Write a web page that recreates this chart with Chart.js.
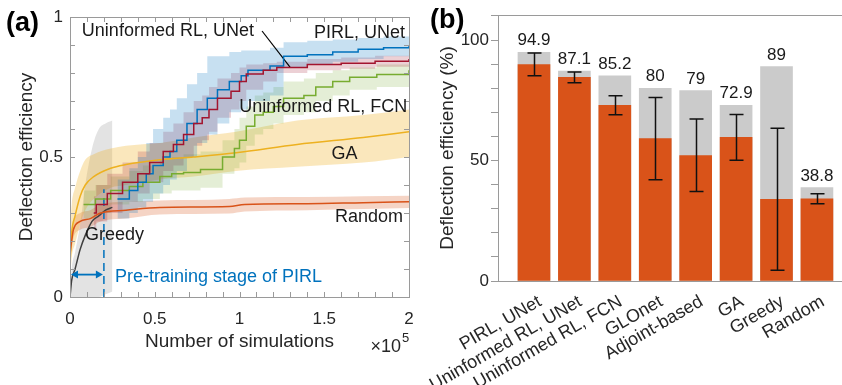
<!DOCTYPE html>
<html><head><meta charset="utf-8">
<script src="https://cdn.jsdelivr.net/npm/chart.js@4.4.1/dist/chart.umd.min.js"></script>
<style>
html,body{margin:0;padding:0;background:#fff;overflow:hidden;width:842px;height:385px}
#ca{position:absolute;left:0;top:0;width:420px;height:385px}
#cb{position:absolute;left:420px;top:0;width:422px;height:385px}
</style></head><body>
<canvas id="ca" width="420" height="385"></canvas>
<canvas id="cb" width="422" height="385"></canvas>
<script>
// ---------------- Panel (a) data (x in units of 1e5 simulations) ----------------
const pirlX  = [0.28,0.35,0.40,0.45,0.49,0.55,0.59,0.63,0.69,0.75,0.81,0.87,0.94,1.01,1.05,1.18,1.26,1.40,1.55,1.70,1.85,2.00];
const pirlY  = [0.35,0.38,0.41,0.44,0.47,0.50,0.52,0.56,0.62,0.67,0.71,0.74,0.77,0.79,0.81,0.825,0.86,0.865,0.875,0.885,0.89,0.897];
const pirlHi = [0.42,0.46,0.50,0.55,0.60,0.64,0.67,0.71,0.76,0.80,0.86,0.86,0.875,0.88,0.88,0.89,0.91,0.915,0.92,0.925,0.93,0.93];
const pirlLo = [0.28,0.30,0.32,0.34,0.37,0.40,0.42,0.45,0.50,0.55,0.58,0.62,0.66,0.67,0.70,0.72,0.82,0.83,0.84,0.85,0.86,0.865];

const unetX  = [0.14,0.155,0.22,0.31,0.40,0.47,0.55,0.61,0.67,0.73,0.78,0.82,0.87,0.95,1.00,1.04,1.14,1.22,1.40,1.60,1.80,2.00];
const unetY  = [0.30,0.33,0.37,0.41,0.44,0.48,0.52,0.545,0.58,0.62,0.64,0.67,0.71,0.735,0.77,0.796,0.81,0.82,0.83,0.835,0.842,0.85];
const unetHi = [0.36,0.40,0.44,0.48,0.52,0.55,0.59,0.62,0.66,0.70,0.72,0.75,0.78,0.80,0.82,0.83,0.835,0.84,0.85,0.855,0.862,0.87];
const unetLo = [0.24,0.27,0.30,0.34,0.37,0.41,0.45,0.47,0.50,0.54,0.56,0.59,0.64,0.67,0.70,0.74,0.77,0.80,0.81,0.815,0.822,0.83];

const fcnX  = [0.08,0.15,0.24,0.35,0.43,0.53,0.60,0.67,0.77,0.90,0.97,1.00,1.04,1.09,1.14,1.20,1.26,1.38,1.45,1.55,1.65,1.81,2.00];
const fcnY  = [0.33,0.35,0.38,0.395,0.41,0.43,0.44,0.445,0.455,0.50,0.53,0.56,0.61,0.65,0.66,0.68,0.71,0.72,0.75,0.77,0.785,0.795,0.81];
const fcnHi = [0.38,0.40,0.43,0.45,0.47,0.49,0.50,0.51,0.52,0.56,0.60,0.64,0.68,0.72,0.73,0.75,0.77,0.78,0.80,0.81,0.82,0.83,0.84];
const fcnLo = [0.28,0.30,0.33,0.34,0.35,0.37,0.38,0.38,0.39,0.44,0.46,0.48,0.54,0.58,0.60,0.62,0.65,0.66,0.70,0.72,0.74,0.75,0.77];

const gaX  = [0,0.005,0.01,0.03,0.06,0.09,0.14,0.24,0.33,0.53,0.73,0.98,1.34,1.73,2.00];
const gaY  = [0.12,0.18,0.23,0.29,0.36,0.40,0.43,0.46,0.473,0.49,0.50,0.515,0.545,0.57,0.59];
const gaHi = [0.20,0.28,0.33,0.39,0.45,0.49,0.51,0.53,0.54,0.55,0.57,0.59,0.63,0.65,0.67];
const gaLo = [0.05,0.10,0.14,0.19,0.26,0.31,0.35,0.39,0.40,0.42,0.43,0.45,0.465,0.48,0.50];

const rndX  = [0,0.003,0.01,0.02,0.06,0.12,0.18,0.33,0.53,0.94,1.03,1.40,1.73,2.00];
const rndY  = [0.15,0.17,0.20,0.24,0.27,0.28,0.30,0.31,0.32,0.323,0.33,0.333,0.337,0.34];
const rndHi = [0.18,0.20,0.23,0.27,0.30,0.31,0.33,0.34,0.345,0.35,0.355,0.357,0.36,0.362];
const rndLo = [0.12,0.14,0.17,0.21,0.24,0.25,0.27,0.28,0.295,0.298,0.305,0.31,0.314,0.318];

const grdX  = [0,0.01,0.03,0.06,0.09,0.13,0.17,0.21,0.25];
const grdY  = [0,0.06,0.10,0.17,0.22,0.27,0.29,0.31,0.32];
const grdHi = [0,0.10,0.16,0.26,0.40,0.53,0.60,0.62,0.63];
const grdLo = [0,0,0,0,0,0,0,0.01,0.02];

const pretrainEnd = 0.2;      // end of PIRL pre-training (x 1e5)
const pretrainLineTop = 0.385;
const pretrainArrowY = 0.08;
const pointerX = [1.133,1.298];
const pointerY = [0.95,0.821];

const xTickLabelsA = [0,0.5,1,1.5,2];
const yTickLabelsA = [0,0.5,1];
const xMinorA = [0,0.1,0.2,0.3,0.4,0.5,0.6,0.7,0.8,0.9,1,1.1,1.2,1.3,1.4,1.5,1.6,1.7,1.8,1.9,2];
const yMinorA = [0,0.1,0.2,0.3,0.4,0.5,0.6,0.7,0.8,0.9,1];

// ---------------- Panel (b) data ----------------
const categories = ['PIRL, UNet','Uninformed RL, UNet','Uninformed RL, FCN','GLOnet','Adjoint-based','GA','Greedy','Random'];
const maxVals  = [94.9,87.1,85.2,80,79,72.9,89,38.8];
const meanVals = [89.8,84.5,72.9,59.1,52.1,59.6,33.9,34.1];
const errLo    = [85.2,82.3,69.0,42.0,37.1,50.1,4.5,32.1];
const errHi    = [94.6,86.7,76.9,76.2,67.2,69.1,63.4,36.2];
const yTicksB  = [0,10,20,30,40,50,60,70,80,90,100,110];
const yLabelsB = [0,50,100];

// ---------------- common ----------------
const FONT = "'Liberation Sans', Arial, Helvetica, sans-serif";
Chart.defaults.font.family = FONT;
Chart.defaults.color = '#262626';
const AX = '#9a9a9a';
const pts = (xs, ys) => xs.map((x, i) => ({x: x, y: ys[i]}));
const noPad = s => { s.paddingLeft = 0; s.paddingRight = 0; s.paddingTop = 0; s.paddingBottom = 0; };

function lineDs(xs, ys, color, stepped, extra) {
  return Object.assign({data: pts(xs, ys), borderColor: color, borderWidth: 1.5, pointRadius: 0,
    stepped: stepped, fill: false, order: 0,
    cubicInterpolationMode: stepped ? 'default' : 'monotone'}, extra || {});
}
function bandDs(xs, ys, color, stepped, fill) {
  return {data: pts(xs, ys), borderWidth: 0, borderColor: 'rgba(0,0,0,0)', backgroundColor: color,
    pointRadius: 0, stepped: stepped, fill: fill, order: 1,
    cubicInterpolationMode: stepped ? 'default' : 'monotone'};
}

const labelSpots = [
  {t: 'Uninformed RL, UNet', x: 0.07, y: 0.95, a: 'left'},
  {t: 'PIRL, UNet', x: 1.976, y: 0.943, a: 'right'},
  {t: 'Uninformed RL, FCN', x: 1.99, y: 0.68, a: 'right'},
  {t: 'GA', x: 1.62, y: 0.509, a: 'center'},
  {t: 'Random', x: 1.965, y: 0.287, a: 'right'},
  {t: 'Greedy', x: 0.089, y: 0.22, a: 'left'}
];

const decoA = {
  id: 'decoA',
  afterDraw(chart) {
    const {ctx, chartArea: ca, scales: {x, y}} = chart;
    ctx.save();
    // box
    ctx.strokeStyle = AX; ctx.lineWidth = 1;
    ctx.strokeRect(ca.left + 0.5, ca.top + 0.5, ca.right - ca.left, ca.bottom - ca.top);
    // inward ticks on four sides
    ctx.beginPath();
    xMinorA.forEach(v => {
      const px = Math.round(x.getPixelForValue(v)) + 0.5;
      ctx.moveTo(px, ca.bottom); ctx.lineTo(px, ca.bottom - 5);
      ctx.moveTo(px, ca.top); ctx.lineTo(px, ca.top + 5);
    });
    yMinorA.forEach(v => {
      const py = Math.round(y.getPixelForValue(v)) + 0.5;
      ctx.moveTo(ca.left, py); ctx.lineTo(ca.left + 5, py);
      ctx.moveTo(ca.right, py); ctx.lineTo(ca.right - 5, py);
    });
    ctx.stroke();
    // pre-training arrow
    const ax0 = x.getPixelForValue(0) + 1, ax1 = x.getPixelForValue(pretrainEnd) - 1, ay = y.getPixelForValue(pretrainArrowY);
    ctx.strokeStyle = '#0072BD'; ctx.fillStyle = '#0072BD'; ctx.lineWidth = 1.8;
    ctx.beginPath(); ctx.moveTo(ax0 + 4, ay); ctx.lineTo(ax1 - 4, ay); ctx.stroke();
    ctx.beginPath(); ctx.moveTo(ax0, ay); ctx.lineTo(ax0 + 7, ay - 4); ctx.lineTo(ax0 + 7, ay + 4); ctx.closePath(); ctx.fill();
    ctx.beginPath(); ctx.moveTo(ax1, ay); ctx.lineTo(ax1 - 7, ay - 4); ctx.lineTo(ax1 - 7, ay + 4); ctx.closePath(); ctx.fill();
    // texts
    ctx.font = '18px ' + FONT; ctx.textBaseline = 'middle'; ctx.fillStyle = '#1a1a1a';
    labelSpots.forEach(s => { ctx.textAlign = s.a; ctx.fillText(s.t, x.getPixelForValue(s.x), y.getPixelForValue(s.y)); });
    ctx.fillStyle = '#0072BD'; ctx.textAlign = 'left';
    ctx.fillText('Pre-training stage of PIRL', x.getPixelForValue(0.265), y.getPixelForValue(0.072));
    // x10^5
    ctx.fillStyle = '#262626'; ctx.textBaseline = 'alphabetic'; ctx.textAlign = 'right';
    ctx.font = '18px ' + FONT; ctx.fillText('\u00d710', ca.right - 8, 352);
    ctx.textAlign = 'left'; ctx.font = '13px ' + FONT; ctx.fillText('5', ca.right - 7, 342);
    // panel tag
    ctx.font = 'bold 27px ' + FONT; ctx.fillStyle = '#000';
    ctx.fillText('(a)', 6, 31);
    ctx.restore();
  }
};

new Chart(document.getElementById('ca'), {
  type: 'line',
  data: {datasets: [
    lineDs(rndX, rndY, '#D95319', false),
    lineDs(grdX, grdY, '#404040', false),
    lineDs(unetX, unetY, '#A2142F', true),
    lineDs(pirlX, pirlY, '#0072BD', true),
    lineDs(fcnX, fcnY, '#77AC30', true),
    lineDs(gaX, gaY, '#EDB120', false),
    {data: pts(pointerX, pointerY), borderColor: '#000', borderWidth: 1.2, pointRadius: 0, fill: false, order: 0},
    {data: [{x: pretrainEnd, y: 0}, {x: pretrainEnd, y: pretrainLineTop}], borderColor: '#0072BD', borderWidth: 1.5,
      borderDash: [8, 5], pointRadius: 0, fill: false, order: 0},
    bandDs(pirlX, pirlHi, 'rgba(0,114,189,0.22)', true, '+1'),
    bandDs(pirlX, pirlLo, 'rgba(0,0,0,0)', true, false),
    bandDs(unetX, unetHi, 'rgba(162,20,47,0.2)', true, '+1'),
    bandDs(unetX, unetLo, 'rgba(0,0,0,0)', true, false),
    bandDs(fcnX, fcnHi, 'rgba(119,172,48,0.2)', true, '+1'),
    bandDs(fcnX, fcnLo, 'rgba(0,0,0,0)', true, false),
    bandDs(gaX, gaHi, 'rgba(237,177,32,0.3)', false, '+1'),
    bandDs(gaX, gaLo, 'rgba(0,0,0,0)', false, false),
    bandDs(rndX, rndHi, 'rgba(217,83,25,0.25)', false, '+1'),
    bandDs(rndX, rndLo, 'rgba(0,0,0,0)', false, false),
    bandDs(grdX, grdHi, 'rgba(128,128,128,0.22)', false, '+1'),
    bandDs(grdX, grdLo, 'rgba(0,0,0,0)', false, false)
  ]},
  options: {
    responsive: false, animation: false, devicePixelRatio: 1,
    layout: {padding: {left: 0, top: 17, right: 11, bottom: 0}},
    plugins: {legend: {display: false}, tooltip: {enabled: false}},
    scales: {
      x: {type: 'linear', min: 0, max: 2,
        afterBuildTicks: s => { s.ticks = xTickLabelsA.map(v => ({value: v})); },
        afterFit: s => { s.height = 88; noPad(s); },
        grid: {display: false, drawTicks: false}, border: {display: false},
        ticks: {font: {size: 17}, padding: 12, color: '#262626', callback: v => String(v)},
        title: {display: true, text: 'Number of simulations', font: {size: 19}, color: '#262626', padding: {top: 0, bottom: 31.5}}},
      y: {min: 0, max: 1,
        afterBuildTicks: s => { s.ticks = yTickLabelsA.map(v => ({value: v})); },
        afterFit: s => { s.width = 70; noPad(s); },
        grid: {display: false, drawTicks: false}, border: {display: false},
        ticks: {font: {size: 17}, padding: 7, color: '#262626', callback: v => String(v)},
        title: {display: true, text: 'Deflection efficiency', font: {size: 19}, color: '#262626', padding: {top: 15.5, bottom: 0}}}
    }
  },
  plugins: [decoA]
});

// ---------------- Panel (b) ----------------
const catPos = categories.map((c, i) => i + 1);
const decoB = {
  id: 'decoB',
  afterDatasetsDraw(chart) {
    const {ctx, chartArea: ca, scales: {x, y}} = chart;
    ctx.save();
    // error bars
    ctx.strokeStyle = '#111'; ctx.lineWidth = 1.5;
    catPos.forEach((p, i) => {
      const px = Math.round(x.getPixelForValue(p)) + 0.5;
      const y1 = y.getPixelForValue(errHi[i]), y0 = y.getPixelForValue(errLo[i]);
      ctx.beginPath();
      ctx.moveTo(px, y1); ctx.lineTo(px, y0);
      ctx.moveTo(px - 7, y1); ctx.lineTo(px + 7, y1);
      ctx.moveTo(px - 7, y0); ctx.lineTo(px + 7, y0);
      ctx.stroke();
    });
    // value labels
    ctx.font = '17px ' + FONT; ctx.fillStyle = '#1a1a1a'; ctx.textAlign = 'center'; ctx.textBaseline = 'alphabetic';
    catPos.forEach((p, i) => ctx.fillText(String(maxVals[i]), x.getPixelForValue(p), y.getPixelForValue(maxVals[i]) - 7));
    // top border
    ctx.strokeStyle = AX; ctx.lineWidth = 1;
    ctx.beginPath(); ctx.moveTo(ca.left, ca.top + 0.5); ctx.lineTo(ca.right, ca.top + 0.5); ctx.stroke();
    // tag
    ctx.font = 'bold 27px ' + FONT; ctx.fillStyle = '#000'; ctx.textAlign = 'left';
    ctx.fillText('(b)', 10, 28);
    ctx.restore();
  }
};

new Chart(document.getElementById('cb'), {
  type: 'bar',
  data: {datasets: [
    {data: pts(catPos, meanVals), backgroundColor: '#D95319', barThickness: 32, grouped: false, order: 0},
    {data: pts(catPos, maxVals), backgroundColor: '#CBCBCB', barThickness: 32, grouped: false, order: 1}
  ]},
  options: {
    responsive: false, animation: false, devicePixelRatio: 1,
    layout: {padding: {left: 0, top: 15, right: 0, bottom: 0}},
    plugins: {legend: {display: false}, tooltip: {enabled: false}},
    scales: {
      x: {type: 'linear', min: 0.11, max: 8.62, offset: false,
        afterBuildTicks: s => { s.ticks = catPos.map(v => ({value: v})); },
        afterFit: s => { s.height = 104; noPad(s); },
        grid: {display: false, drawTicks: false}, border: {display: true, color: AX, width: 1},
        ticks: {font: {size: 18}, minRotation: 30, maxRotation: 30, autoSkip: false, padding: 10, labelOffset: 6, color: '#262626',
          callback: v => categories[Math.round(v) - 1]}},
      y: {min: 0, max: 110.4,
        afterBuildTicks: s => { s.ticks = yTicksB.map(v => ({value: v})); },
        afterFit: s => { s.width = 78; noPad(s); },
        grid: {display: true, drawOnChartArea: false, drawTicks: true, tickLength: 7, color: AX},
        border: {display: true, color: AX, width: 1},
        ticks: {font: {size: 17}, padding: 2, color: '#262626', callback: v => yLabelsB.includes(v) ? String(v) : ''},
        title: {display: true, text: 'Deflection efficiency (%)', font: {size: 19}, color: '#262626', padding: {top: 16.5, bottom: 0}}}
    }
  },
  plugins: [decoB]
});
</script></body></html>
